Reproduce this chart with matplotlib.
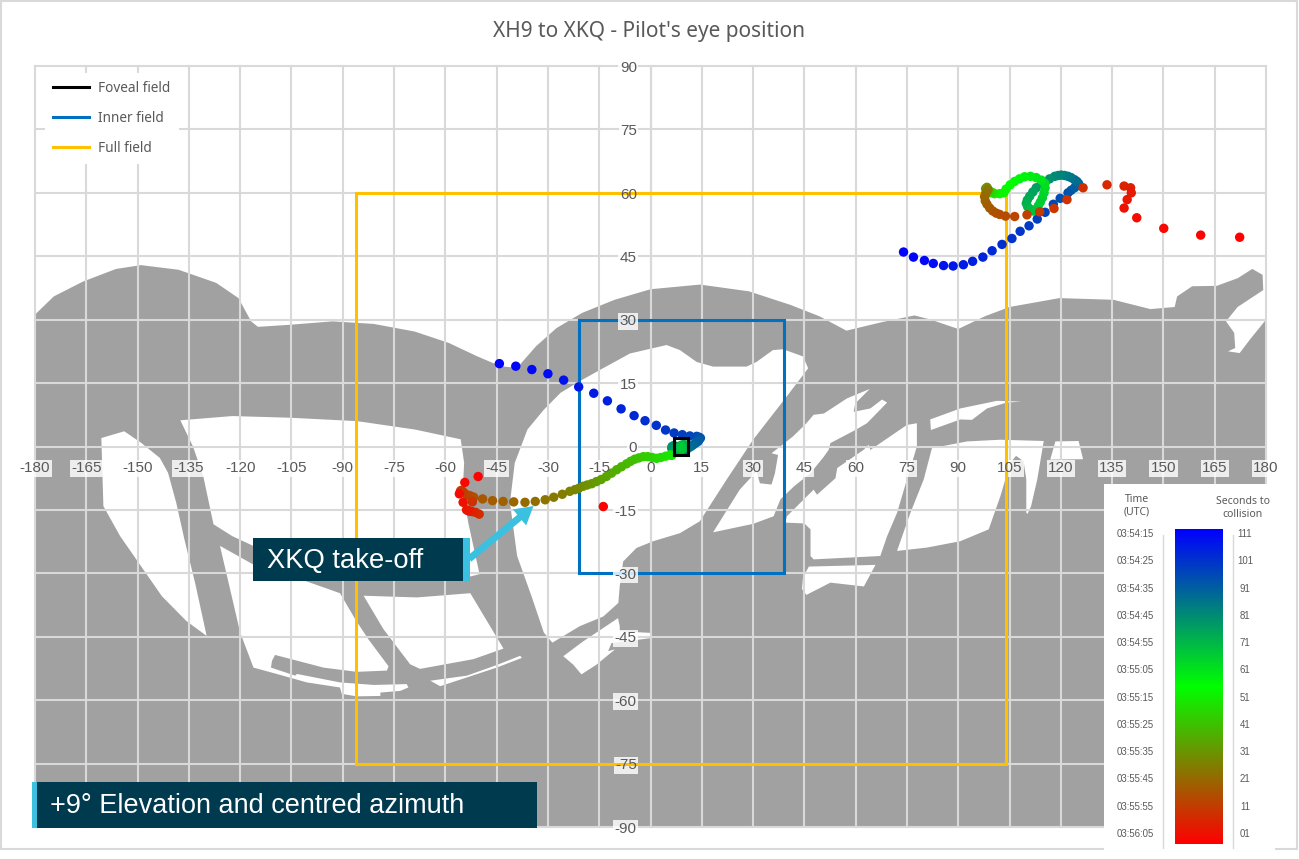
import matplotlib
matplotlib.use('Agg')
import matplotlib.pyplot as plt
from matplotlib.colors import LinearSegmentedColormap
from matplotlib.patches import Rectangle
import numpy as np

# azimuth / elevation ticks
az_ticks = list(range(-180, 181, 15))
el_ticks = list(range(-90, 91, 15))

# cockpit outline, (azimuth, elevation)
cockpit = [(-180, 31.2), (-174.5, 35.5), (-166, 39), (-156.3, 42), (-149, 42.9), (-138, 41.8),
           (-127, 38.7), (-120.5, 35.1), (-116.8, 29.6), (-114.8, 28.3), (-105.3, 28.8), (-93, 29.6),
           (-81, 29), (-69, 27.2), (-59, 24.5), (-50.6, 21.3), (-43.9, 19), (-39, 18.6), (-33.5, 23.7),
           (-27.5, 28), (-20, 31.6), (-10.5, 34.7), (0, 37.2), (14.5, 38.3), (28.8, 36.7), (40.9, 33.5),
           (49.4, 30.8), (57.3, 27.4), (67.6, 29.4), (77.2, 31), (82, 30), (90, 27.8), (97.8, 30.8),
           (105, 33), (119.6, 35.1), (135.4, 34.7), (146.2, 32.5), (153.3, 33), (154, 35.5), (158.4, 37.9),
           (165.6, 38), (171.7, 39.8), (176, 42), (179, 40.6), (179.2, 37), (171.7, 33), (168.3, 29.6),
           (170.7, 26.9), (171, 23.3), (168.9, 22.5), (172.3, 22.1), (175.3, 25.3), (180, 30),
           (180, -90), (-180, -90)]

# window openings
windows = [
    [(-160.6, 2), (-153.9, 3.6), (-149, 0.9), (-143.5, -2.7), (-141.1, -6.2), (-138.7, -13.3), (-136.3, -22),
     (-133.2, -32.2), (-129.8, -44.8), (-135.7, -41.3), (-142.9, -35.4), (-149, -28.3), (-155.1, -21.2), (-160, -14.1)],
    [(-137.5, 6.2), (-122.3, 7.2), (-105.3, 6.8), (-85.8, 6), (-68.8, 4), (-55.5, 1.7), (-54.5, -3.9), (-54.9, -10.2),
     (-53.3, -18), (-50, -30.2), (-53, -30.8), (-81, -31), (-116.2, -23.5), (-122.3, -21.2), (-127.8, -18.4),
     (-130.8, -7), (-133.8, 0)],
    [(-125.9, -23.5), (-116.2, -27.9), (-105.3, -30.6), (-103.4, -31.1), (-90.8, -34.7), (-86.4, -40.8), (-82.5, -45.6),
     (-76.6, -52), (-77.1, -53), (-85.9, -53.3), (-95.6, -52.3), (-109.8, -49.3), (-110.7, -50.7), (-111, -52.3),
     (-103.9, -54.2), (-103.4, -53.8), (-90.8, -55.8), (-81, -56.4), (-71.3, -56.2), (-70.8, -57), (-73.2, -57.8),
     (-79, -58.2), (-79, -59), (-85.9, -59.1), (-90.3, -58.5), (-90.8, -57), (-100.5, -55.8), (-109.3, -53.8),
     (-116.1, -52.3), (-120, -44)],
    [(-83.9, -35.3), (-68.3, -35.7), (-52.7, -34.7), (-43, -47.8), (-51.8, -50.3), (-67.4, -52.6), (-70.3, -51.5), (-78.1, -43.2)],
    [(-38.1, -49.5), (-37.6, -50), (-45, -52.3), (-61.5, -56.7), (-64.4, -55.4), (-53.7, -54.2), (-45, -51.7)],
    [(4.7, 24), (8.6, 22.8), (13.5, 20), (18.3, 18.9), (28.1, 18.9), (31, 20), (35.8, 22.8), (38.8, 23), (44.6, 21.3),
     (46.1, 18.5), (44.6, 16.9), (39.8, 11.8), (30, 1.6), (22.2, -7.9), (14.4, -17.7), (8.6, -20.5), (0.8, -22.4),
     (-4.1, -24), (-8, -27.2), (-9, -33), (-9.4, -37), (-13.8, -40.2), (-20.7, -42.5), (-28.7, -46.4), (-31.2, -44),
     (-34.8, -35.4), (-39, -25.9), (-41.1, -13.3), (-39.7, -3.9), (-36, 4), (-31.2, 8.7), (-26.3, 12.7), (-20.8, 15.4),
     (-14.8, 18.1), (-6, 22)],
    [(18.3, -20.3), (26.1, -10.2), (31, -5.9), (32, -8.7), (35.4, -9), (36.4, -6.3), (37.3, -2), (35.4, -1.6), (41.7, 2.4),
     (45.6, 5.5), (47.7, 7.5), (50.7, 7.8), (57.5, 11.4), (64.1, 13.6), (59.9, 10.2), (59.4, 8.2), (64.3, 9), (67.7, 11.1),
     (69.2, 10.4), (63.3, 5.5), (59.9, 3.9), (52.6, 0.8), (52.1, -0.8), (50.7, -2.4), (46.8, -6.3), (42, -9.4), (38, -12.5),
     (36, -16.5), (30, -18.3)],
    [(39.4, -18), (45, -18.2), (46.8, -19.6), (46.8, -25.9), (47.7, -26.7), (67.2, -25.9), (69.2, -21.2), (72.1, -15.7),
     (75, -7.8), (77.9, 0), (77.9, 5.5), (75, 5.1), (64.3, -0.8), (63.8, 0.4), (62.3, -0.8), (54.6, -5.1), (54.1, -7.5),
     (48.7, -11.4), (47.7, -10.2), (39.9, -16.5)],
    [(82.3, -0.4), (92.6, 1.2), (102.3, 1.6), (115, 1.3), (113.1, -7.8), (111.3, -14.1), (110.3, -15.9), (109.9, -15.7),
     (109.9, -7.8), (109.1, -3.5), (106.9, -2.2), (105.2, -3.9), (102.3, -11.8), (98.9, -19.6), (90.6, -22.4),
     (80.9, -23.9), (72.1, -24.7), (76, -15.7), (79.9, -7.8)],
    [(118.4, 1.2), (125.2, 1.3), (126.5, -3), (116.9, -3.1)],
    [(81.8, 6.4), (90.6, 9), (101.3, 10.8), (108.4, 10.6), (104.2, 10.4), (98.4, 9), (94, 6.3), (90.6, 6.4), (82, 3.9)],
    [(46.3, -28.4), (65.8, -28), (62.4, -33.1), (52.6, -32.2), (45.6, -35.1), (44.3, -33.7), (44.6, -31)],
    [(-25.5, -49.6), (-19.7, -46.1), (-9.5, -40.6), (-9, -42.5), (-9, -43.7), (0.3, -44.1), (0.3, -45.3), (-11.4, -46.5),
     (-12.4, -48.4), (-10.4, -48), (-15.8, -51.6), (-20.2, -53.9), (-22.6, -51.6)],
]

# field limits: az min, az max, el min, el max
foveal_field = (7, 11, -2, 2)
inner_field = (-21, 39, -30, 30)
full_field = (-86, 104, -75, 60)

# eye track, upper right
right_s = [111, 110, 109, 108, 107, 106, 105, 104, 103, 102, 101, 100, 99, 98, 97, 96, 95, 94,
           93, 92, 91, 90, 89, 88, 87, 86, 85, 84, 83, 82, 81, 80, 79, 78, 77, 76, 75, 74, 73, 72, 71, 70,
           69, 68, 67, 66, 65, 64, 63, 62, 61, 60, 59, 58, 57, 56, 55, 54, 53, 52, 51, 50, 47, 44, 41, 38, 35, 32,
           27, 26, 25, 24, 23, 22, 21, 20, 19, 18, 17, 16, 15, 14, 13, 12, 11, 10, 9, 8, 7, 6, 5, 4, 3, 2, 1]
right_az = [74, 76.9, 80.1, 82.7, 85.7, 88.5, 91.5, 94.2, 97.2, 99.9, 102.8, 105.7, 108.1, 110.7, 113.1, 115.4, 117.8, 119.8,
            122.1, 123, 124, 124.7, 125.2, 124.7, 124, 123, 122.1, 121.1, 120.1, 119.2, 118.2, 116.7, 115.4, 114.3, 112.8,
            111.8, 110.9, 110.2, 109.9, 110.3, 111.1, 112,
            112.8, 113.4, 114, 114.6, 115.1, 115.4, 115.3, 114.3, 112.8, 111.1, 109.4, 107.9, 106.5, 105.2, 104, 103.3, 102.1,
            100.6, 99.2, 100.2, 99.6, 99, 98.7, 98.3, 98, 98.4,
            98.7, 98.4, 98, 97.7, 97.9, 98.4, 99.2, 100.1, 101.1, 102.1, 103.8, 106.5, 110.1, 113.8, 118, 121.8, 126.5, 133.5,
            138.5, 140.4, 140.6, 139.4, 138.5, 142.2, 150.1, 160.9, 172.3]
right_el = [46, 44.8, 44, 43.3, 42.8, 42.7, 43, 43.8, 44.8, 46.3, 47.8, 49.2, 50.9, 52.2, 53.8, 55.4, 57.3, 58.7,
            60, 60.6, 61.2, 61.7, 62.2, 62.7, 63.1, 63.6, 63.9, 64.1, 64.2, 64.1, 63.9, 63.3, 62.5, 62.2, 61.2,
            60.2, 59.2, 58.3, 57.5, 56.7, 56.1, 55.7,
            56.1, 56.9, 57.8, 58.8, 60, 61.2, 62.2, 63, 63.6, 63.9, 63.8, 63.3, 62.7, 61.9, 60.9, 60, 59.8,
            59.8, 60, 60, 60.2, 60.5, 60.7, 60.9, 61, 61.3,
            60.8, 60.4, 59.8, 59.1, 58.1, 57.3, 56.4, 55.7, 55.2, 54.9, 54.5, 54.4, 54.8, 55.5, 56.3, 58.4, 61.2, 61.9,
            61.6, 61.2, 60, 58.4, 56.4, 54.1, 51.6, 50, 49.5]

# eye track, centre
left_s = [111, 110, 109, 108, 107, 106, 105, 104, 103, 102, 101, 100, 99, 98, 97, 96,
          95, 94, 93, 92, 91, 90, 89, 88, 87, 86, 85, 84, 83, 82, 81, 80, 79, 78, 77, 76, 75, 74, 73, 72, 71, 70, 69, 68,
          52, 51, 50, 49, 48, 47, 46, 45, 44, 43, 42, 41, 40, 39, 38, 37, 36, 35, 34, 33, 32, 31, 30,
          29, 28, 27, 26, 25, 24, 23, 22, 21, 20, 19, 18, 17, 16, 15, 14, 13, 12, 11, 10, 9, 8, 7, 6, 5, 4, 3, 2, 1]
left_az = [-44.2, -39.4, -34.7, -30, -25.4, -21, -16.6, -12.6, -8.6, -4.8, -1.6, 1.7, 4.4, 6.9, 9.3, 11.5,
           13.5, 14.2, 14.6, 14.2, 13.9, 13.2, 12.5, 11.8, 11, 10.3, 9.6, 9, 8.4, 7.6, 6.8, 6.3, 6.2, 6.6, 7.2, 7.8, 8.6, 9.4, 10,
           9.8, 9, 8.4, 9.2, 9,
           6.2, 5.7, 4.4, 3, 1.8, 0.5, -0.8, -2.1, -3.4, -4.6, -5.8, -7, -8.5, -9.9, -11.4, -12.9, -14.4, -15.8, -17.2, -18.5, -19.7, -21, -22.1,
           -23.6, -25.8, -28.3, -30.8, -33.7, -36.7, -40, -43.1, -46.2, -49.1, -51.7, -52.4, -53, -53.8, -54.8, -55.4, -55.6, -52.1, -50.1,
           -51.1, -52.1, -52.8, -53.3, -53.8, -54.8, -55.9, -54.3, -50.4, -13.8]
left_el = [19.6, 19, 18.2, 17.2, 15.7, 14.1, 12.6, 10.8, 8.9, 7.3, 6.1, 5, 3.9, 3.2, 2.8, 2.5,
           2.4, 2.2, 2, 1.6, 1.2, 0.8, 0.4, 0, -0.4, -0.8, -1, -0.8, -0.4, 0, 0.2, 0, -0.4, -0.8, -1.1, -1.2, -1, -0.6, 0,
           0.5, 0.3, -0.3, -0.6, -0.1,
           -2.1, -2, -2.3, -2.6, -2.8, -2.6, -2.4, -2.4, -2.7, -3, -3.5, -4.1, -4.8, -5.5, -6.3, -7.1, -7.8, -8.3, -8.8, -9.1, -9.4, -9.9, -10.2,
           -10.6, -11.3, -12, -12.6, -13, -13.2, -13.1, -13, -12.8, -12.4, -12, -11.8, -11.6, -11.4, -10.7, -10.4, -10.6, -13.1, -16,
           -15.6, -15.4, -15.3, -15.2, -15, -13.2, -11.2, -8.5, -7.1, -14.2]

time_labels = ['03:54:15', '03:54:25', '03:54:35', '03:54:45', '03:54:55', '03:55:05',
               '03:55:15', '03:55:25', '03:55:35', '03:55:45', '03:55:55', '03:56:05']
second_labels = ['111', '101', '91', '81', '71', '61', '51', '41', '31', '21', '11', '01']

GREY = '#595959'
GRID = '#d9d9d9'
cmap = LinearSegmentedColormap.from_list('t', ['#ff0000', '#00ff00', '#0000ff'])

fig = plt.figure(figsize=(12.99, 8.59), dpi=100)
W, H = 1299, 859
ax = fig.add_axes([35 / W, 1 - 827 / H, 1231 / W, 761 / H])
ax.set_xlim(-180, 180)
ax.set_ylim(-90, 90)

ax.fill(*zip(*cockpit), color='#a1a1a1', lw=0, zorder=1)
for w in windows:
    ax.fill(*zip(*w), color='white', lw=0, zorder=1.2)

ax.set_xticks(az_ticks)
ax.set_yticks(el_ticks)
ax.tick_params(length=0, labelbottom=False, labelleft=False)
ax.grid(True, color=GRID, lw=1.5, zorder=2)
ax.set_axisbelow(False)
for gl in ax.get_xgridlines() + ax.get_ygridlines():
    gl.set_clip_on(False)
    gl.set_zorder(2)
for s in ax.spines.values():
    s.set_visible(False)
ax.axvline(0, color='#bfbfbf', lw=1.5, zorder=2.1)


def field(lim, color, label, z):
    x0, x1, y0, y1 = lim
    ax.plot([x0, x1, x1, x0, x0], [y0, y0, y1, y1, y0], color=color, lw=2.2, label=label,
            zorder=z, solid_joinstyle='miter')


for az, el, s in [(right_az, right_el, right_s), (left_az, left_el, left_s)]:
    ax.scatter(az, el, c=s, cmap=cmap, vmin=1, vmax=111, s=46, linewidths=0, zorder=3.5)

field(foveal_field, 'black', 'Foveal field', 4)
field(inner_field, '#0070c0', 'Inner field', 3)
field(full_field, '#ffc000', 'Full field', 3.3)

leg = ax.legend(loc='upper left', bbox_to_anchor=(10 / 1231, 1 - 7 / 761), frameon=True, framealpha=1, edgecolor='none',
                fancybox=False, labelspacing=1.08, handlelength=2.65, handletextpad=0.65,
                prop={'family': 'Noto Sans', 'size': 9.8}, borderaxespad=0, borderpad=0.6)
for t in leg.get_texts():
    t.set_color(GREY)

# label boxes sit under the full-field line and the track, label digits over them
label_box = dict(facecolor='white', alpha=0.82, edgecolor='none', pad=1)
tick_style = dict(fontsize=11, family='Liberation Sans', clip_on=False, va='center')
for a in az_ticks:
    ax.text(a, -5.2, str(a), ha='center', color='none', bbox=label_box, zorder=3.2, **tick_style)
    ax.text(a, -5.2, str(a), ha='center', color=GREY, zorder=5, **tick_style)
for e in el_ticks:
    ax.text(-4, e - 0.4, str(e), ha='right', color='none', bbox=label_box, zorder=3.2, **tick_style)
    ax.text(-4, e - 0.4, str(e), ha='right', color=GREY, zorder=5, **tick_style)

# everything laid over the chart, in picture pixels
over = fig.add_axes([0, 0, 1, 1], zorder=10)
over.set_xlim(0, W)
over.set_ylim(H, 0)
over.axis('off')

over.text(649.5, 31, "XH9 to XKQ - Pilot's eye position", ha='center', va='center', color=GREY,
          fontsize=15, family='Noto Sans')
over.add_patch(Rectangle((1, 1), 1296.5, 848, fc='none', ec=GRID, lw=1.5))

DARK = '#003a4f'
CYAN = '#3cc0e0'
over.add_patch(Rectangle((253, 538), 210, 43, fc=DARK, ec='none'))
over.add_patch(Rectangle((463, 538), 7, 43, fc=CYAN, ec='none'))
over.text(267, 561, 'XKQ take-off', color='white', fontsize=19.7, family='Liberation Sans', va='center')
over.annotate('', xy=(533.5, 506), xytext=(469, 559),
              arrowprops=dict(facecolor=CYAN, edgecolor='none', width=5, headwidth=15, headlength=13, shrink=0))
over.add_patch(Rectangle((37, 782), 500, 46, fc=DARK, ec='none'))
over.add_patch(Rectangle((32, 782), 5, 46, fc=CYAN, ec='none'))
over.text(50, 806, '+9° Elevation and centred azimuth', color='white', fontsize=19.5,
          family='Liberation Sans', va='center')

# colour key
over.add_patch(Rectangle((1104, 484), 171, 366, fc='white', ec='none'))
over.plot([1163, 1163], [535, 848], color=GRID, lw=1)
over.plot([1233, 1233], [535, 848], color=GRID, lw=1)
over.imshow(np.linspace(1, 0, 256).reshape(-1, 1), cmap=cmap, extent=(1175, 1223, 844, 529), aspect='auto', zorder=3)
over.set_xlim(0, W)
over.set_ylim(H, 0)
over.text(1137, 506, 'Time\n(UTC)', ha='center', va='center', color=GREY, fontsize=7.5, family='Noto Sans')
over.text(1243, 508, 'Seconds to\ncollision', ha='center', va='center', color=GREY, fontsize=7.5, family='Noto Sans')
for i, (tl, sl) in enumerate(zip(time_labels, second_labels)):
    y = 534 + i * 27.27
    over.text(1154, y, tl, ha='right', va='center', color=GREY, fontsize=6.9, family='Liberation Sans')
    over.text(1245, y, sl, ha='center', va='center', color=GREY, fontsize=6.9, family='Liberation Sans')

fig.savefig('out.png', dpi=100)
